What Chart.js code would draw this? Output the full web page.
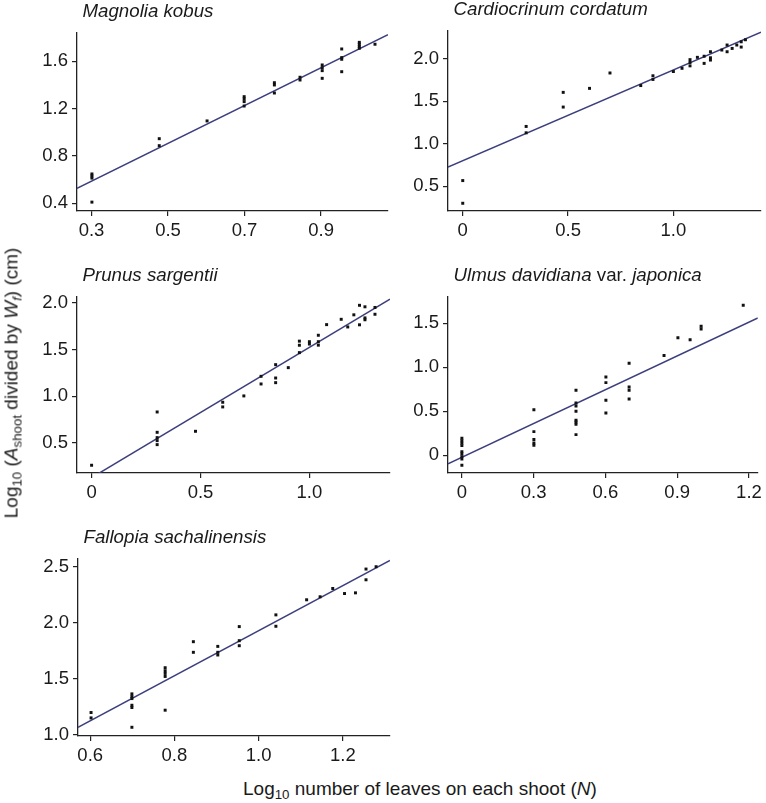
<!DOCTYPE html>
<html>
<head>
<meta charset="utf-8">
<script src="https://cdn.jsdelivr.net/npm/chart.js@4.4.1/dist/chart.umd.min.js"></script>
<style>
    body { margin: 0; background: #fff; }
    #page { position: relative; width: 766px; height: 803px; overflow: hidden; font-family: 'Liberation Sans', Arial, sans-serif; color: #1a1a1a; }
    .panel { position: absolute; }
    .axis-title { position: absolute; font-size: 19px; line-height: 19px; white-space: nowrap; }
    .axis-title sub { font-size: 0.7em; line-height: 0; vertical-align: -0.3em; }
    #xTitle { left: 243px; top: 779px; }
    #yTitle { left: 11px; top: 383px; transform: translate(-50%, -50%) rotate(-90deg); }
</style>
</head>
<body>
<div id="page">
    <div class="panel" id="p0"><canvas></canvas></div>
    <div class="panel" id="p1"><canvas></canvas></div>
    <div class="panel" id="p2"><canvas></canvas></div>
    <div class="panel" id="p3"><canvas></canvas></div>
    <div class="panel" id="p4"><canvas></canvas></div>
    <div class="axis-title" id="yTitle">Log<sub>10</sub> (<i>A</i><sub>shoot</sub> divided by <i>W</i><sub><i>f</i></sub>) (cm)</div>
    <div class="axis-title" id="xTitle">Log<sub>10</sub> number of leaves on each shoot (<i>N</i>)</div>
</div>
<script>
// species data, x = log10 leaves, y = log10 (A_shoot / W_f)
var magnoliaX = [0.301, 0.301, 0.301, 0.301, 0.477, 0.477, 0.602, 0.699, 0.699, 0.699, 0.699,
    0.778, 0.778, 0.778, 0.845, 0.845, 0.903, 0.903, 0.903, 0.903, 0.954, 0.954, 0.954, 0.954,
    1.0, 1.0, 1.0, 1.0, 1.041];
var magnoliaY = [0.648, 0.631, 0.613, 0.41, 0.946, 0.887, 1.096, 1.301, 1.282, 1.259, 1.222,
    1.419, 1.40, 1.332, 1.465, 1.442, 1.569, 1.546, 1.521, 1.456, 1.704, 1.631, 1.617, 1.512,
    1.76, 1.744, 1.725, 1.71, 1.744];

var cardioX = [0, 0, 0.301, 0.301, 0.477, 0.477, 0.602, 0.699, 0.845, 0.903, 0.903, 1.0, 1.041,
    1.079, 1.079, 1.079, 1.114, 1.146, 1.146, 1.176, 1.176, 1.176, 1.23, 1.255, 1.255, 1.279,
    1.301, 1.322, 1.322, 1.342];
var cardioY = [0.567, 0.30, 1.204, 1.129, 1.605, 1.432, 1.652, 1.833, 1.685, 1.80, 1.757, 1.85, 1.888,
    1.99, 1.957, 1.917, 2.017, 2.03, 1.946, 2.083, 2.012, 1.985, 2.103, 2.162, 2.083, 2.122,
    2.162, 2.2, 2.138, 2.224];

var prunusX = [0, 0.301, 0.301, 0.301, 0.301, 0.301, 0.477, 0.602, 0.602, 0.699, 0.778, 0.778,
    0.845, 0.845, 0.845, 0.903, 0.954, 0.954, 0.954, 1.0, 1.0, 1.041, 1.041, 1.041, 1.079,
    1.146, 1.176, 1.204, 1.23, 1.23, 1.255, 1.255, 1.255, 1.301, 1.301];
var prunusY = [0.261, 0.832, 0.614, 0.557, 0.525, 0.482, 0.625, 0.936, 0.886, 1.004, 1.214, 1.132,
    1.339, 1.196, 1.146, 1.307, 1.591, 1.547, 1.468, 1.585, 1.56, 1.654, 1.585, 1.548, 1.768,
    1.825, 1.743, 1.873, 1.975, 1.766, 1.959, 1.84, 1.82, 1.952, 1.879];

var ulmusX = [0, 0, 0, 0, 0, 0, 0, 0, 0, 0.301, 0.301, 0.301, 0.301, 0.301,
    0.477, 0.477, 0.477, 0.477, 0.477, 0.477, 0.477, 0.477, 0.602, 0.602, 0.602, 0.602,
    0.699, 0.699, 0.699, 0.699, 0.845, 0.903, 0.954, 1.0, 1.0, 1.176];
var ulmusY = [0.193, 0.165, 0.136, 0.11, 0.042, 0.015, -0.015, -0.043, -0.114, 0.517, 0.269, 0.18, 0.14, 0.114,
    0.739, 0.595, 0.561, 0.5, 0.398, 0.379, 0.352, 0.235, 0.89, 0.826, 0.625, 0.481,
    1.045, 0.777, 0.739, 0.64, 1.133, 1.337, 1.314, 1.466, 1.436, 1.705];

var fallopiaX = [0.602, 0.602, 0.699, 0.699, 0.699, 0.699, 0.699, 0.699, 0.778, 0.778, 0.778, 0.778, 0.778,
    0.845, 0.845, 0.903, 0.903, 0.903, 0.954, 0.954, 0.954, 1.041, 1.041, 1.114, 1.146, 1.176,
    1.204, 1.23, 1.255, 1.255, 1.279];
var fallopiaY = [1.198, 1.15, 1.365, 1.341, 1.323, 1.263, 1.243, 1.066, 1.599, 1.572, 1.548, 1.521, 1.219,
    1.832, 1.737, 1.79, 1.737, 1.713, 1.967, 1.841, 1.796, 2.072, 1.97, 2.207, 2.234, 2.308,
    2.263, 2.269, 2.482, 2.386, 2.503];

// fitted lines (slope, intercept) per panel
var fitSlope = [1.597, 1.069, 1.396, 1.279, 2.016];
var fitIntercept = [0.109, 0.80, 0.128, -0.022, -0.085];

// axis ranges and ticks per panel
var xMin = [0.262, -0.07, -0.067, -0.058, 0.571];
var xMax = [1.075, 1.416, 1.37, 1.237, 1.312];
var yMin = [0.335, 0.209, 0.178, -0.201, 0.988];
var yMax = [1.839, 2.327, 2.064, 1.799, 2.572];
var xTicks = [[0.3, 0.5, 0.7, 0.9], [0, 0.5, 1.0], [0, 0.5, 1.0], [0, 0.3, 0.6, 0.9, 1.2], [0.6, 0.8, 1.0, 1.2]];
var yTicks = [[0.4, 0.8, 1.2, 1.6], [0.5, 1.0, 1.5, 2.0], [0.5, 1.0, 1.5, 2.0], [0, 0.5, 1.0, 1.5], [1.0, 1.5, 2.0, 2.5]];

var panelTitles = [
    [{ text: 'Magnolia kobus', italic: true }],
    [{ text: 'Cardiocrinum cordatum', italic: true }],
    [{ text: 'Prunus sargentii', italic: true }],
    [{ text: 'Ulmus davidiana', italic: true }, { text: ' var. ', italic: false }, { text: 'japonica', italic: true }],
    [{ text: 'Fallopia sachalinensis', italic: true }]
];
var panelX = [magnoliaX, cardioX, prunusX, ulmusX, fallopiaX];
var panelY = [magnoliaY, cardioY, prunusY, ulmusY, fallopiaY];

// plot areas on the page
var boxes = [
    { l: 77, t: 33, r: 388, b: 211 },
    { l: 447.5, t: 31, r: 760.5, b: 210.7 },
    { l: 77.3, t: 296.7, r: 390, b: 472.7 },
    { l: 448, t: 296.7, r: 760, b: 472.7 },
    { l: 77.7, t: 559.3, r: 390, b: 736 }
];
var PAD_LEFT = 60, PAD_TOP = 30, PAD_RIGHT = 6, PAD_BOTTOM = 40;
var FONT = "'Liberation Sans', Arial, sans-serif";
var INK = '#1a1a1a';

var panelTitlePlugin = {
    id: 'panelTitle',
    afterDraw: function (chart, args, opts) {
        var ctx = chart.ctx;
        var x = chart.chartArea.left + 5.5;
        var y = chart.chartArea.top - 16;
        ctx.save();
        ctx.fillStyle = INK;
        ctx.textBaseline = 'alphabetic';
        opts.parts.forEach(function (p) {
            ctx.font = (p.italic ? 'italic ' : '') + '18.7px ' + FONT;
            ctx.fillText(p.text, x, y);
            x += ctx.measureText(p.text).width;
        });
        ctx.restore();
    }
};

var tickLabel = function (v) {
    return v === 0 ? '0' : v.toFixed(1);
};

var axisStyle = function () {
    return {
        grid: { display: true, drawOnChartArea: false, drawTicks: true, tickLength: 5, color: '#222', lineWidth: 1.2 },
        border: { display: true, color: '#222', width: 1.3 }
    };
};

var makePanel = function (i) {
    var box = boxes[i];
    var div = document.getElementById('p' + i);
    var w = Math.round(box.r - box.l + PAD_LEFT + PAD_RIGHT);
    var h = Math.round(box.b - box.t + PAD_TOP + PAD_BOTTOM);
    div.style.left = (box.l - PAD_LEFT) + 'px';
    div.style.top = (box.t - PAD_TOP) + 'px';
    var canvas = div.querySelector('canvas');
    canvas.width = w;
    canvas.height = h;

    var pts = panelX[i].map(function (x, k) { return { x: x, y: panelY[i][k] }; });
    var fit = [xMin[i], xMax[i]].map(function (x) { return { x: x, y: fitIntercept[i] + fitSlope[i] * x }; });

    var xAxis = axisStyle();
    xAxis.type = 'linear';
    xAxis.position = 'bottom';
    xAxis.min = xMin[i];
    xAxis.max = xMax[i];
    xAxis.afterBuildTicks = function (scale) { scale.ticks = xTicks[i].map(function (v) { return { value: v }; }); };
    xAxis.afterFit = function (scale) { scale.height = PAD_BOTTOM; };
    xAxis.ticks = { callback: tickLabel, color: INK, padding: 4, maxRotation: 0, autoSkip: false, font: { family: FONT, size: 18.5 } };

    var yAxis = axisStyle();
    yAxis.type = 'linear';
    yAxis.position = 'left';
    yAxis.min = yMin[i];
    yAxis.max = yMax[i];
    yAxis.afterBuildTicks = function (scale) { scale.ticks = yTicks[i].map(function (v) { return { value: v }; }); };
    yAxis.afterFit = function (scale) { scale.width = PAD_LEFT; };
    yAxis.ticks = { callback: tickLabel, color: INK, padding: 4, autoSkip: false, font: { family: FONT, size: 18.5 } };

    new Chart(canvas, {
        type: 'scatter',
        data: {
            datasets: [{
                data: pts,
                pointStyle: 'rect',
                pointRadius: 2.1,
                backgroundColor: '#111',
                borderWidth: 0
            }, {
                data: fit,
                showLine: true,
                fill: false,
                borderColor: '#3c3f7d',
                borderWidth: 1.5,
                pointRadius: 0
            }]
        },
        options: {
            responsive: false,
            animation: false,
            events: [],
            layout: { autoPadding: false, padding: { left: 0, top: PAD_TOP, right: PAD_RIGHT, bottom: 0 } },
            scales: { x: xAxis, y: yAxis },
            plugins: {
                legend: { display: false },
                tooltip: { enabled: false },
                panelTitle: { parts: panelTitles[i] }
            }
        },
        plugins: [panelTitlePlugin]
    });
};

for (var i = 0; i < boxes.length; i++) {
    makePanel(i);
}
</script>
</body>
</html>
